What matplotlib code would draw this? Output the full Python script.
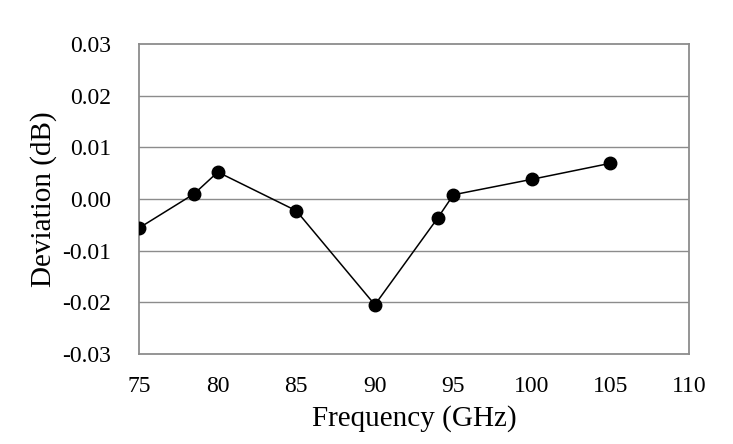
import matplotlib.pyplot as plt

plt.rcParams['font.family'] = 'Liberation Serif'

# measured deviation vs frequency
freq = [75, 78.5, 80, 85, 90, 94, 95, 100, 105]
deviation = [-0.0056, 0.0010, 0.0052, -0.0023, -0.0205, -0.0037, 0.0008, 0.0038, 0.0069]

xticks = [75, 80, 85, 90, 95, 100, 105, 110]
yticks = [-0.03, -0.02, -0.01, 0.00, 0.01, 0.02, 0.03]

fig = plt.figure(figsize=(7.33, 4.44), dpi=100)
ax = fig.add_axes([0.19, 0.203, 0.75, 0.698])

ax.plot(freq, deviation, color='black', lw=1.1, marker='o', ms=9, zorder=3)

ax.set_xlim(75, 110)
ax.set_ylim(-0.03, 0.03)
ax.set_xticks(xticks)
ax.set_yticks(yticks)
ax.set_yticklabels(['%.2f' % v for v in yticks])
ax.tick_params(length=0, labelsize=17)
ax.tick_params(axis='x', pad=16)
ax.tick_params(axis='y', pad=20)

for v in yticks[1:-1]:
    ax.axhline(v, color='#8c8c8c', lw=1.0, zorder=1)
for s in ax.spines.values():
    s.set_color('#8c8c8c')
    s.set_linewidth(1.3)

ax.set_xlabel('Frequency (GHz)', fontsize=21, labelpad=6)
ax.set_ylabel('Deviation (dB)', fontsize=21, labelpad=4)

fig.savefig('out.png', dpi=100)
